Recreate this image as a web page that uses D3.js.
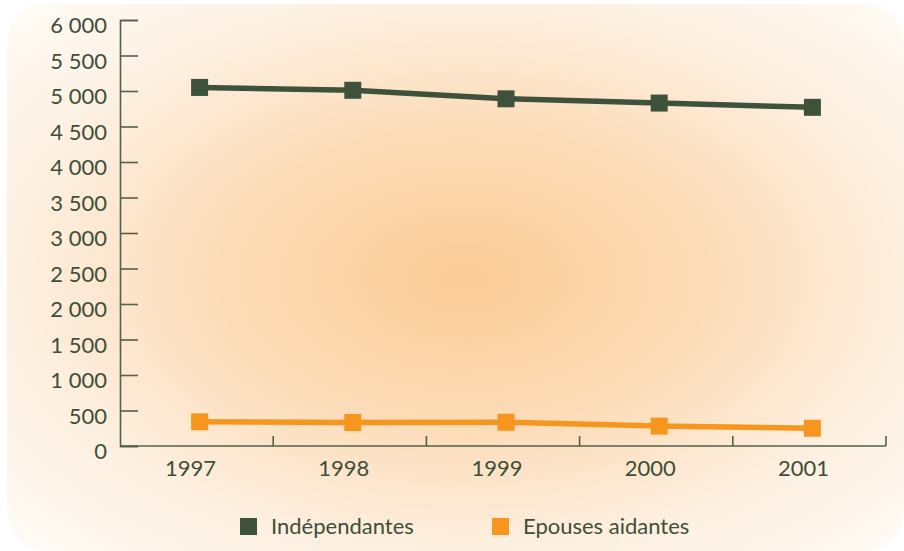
<!DOCTYPE html>
<html>
<head>
<meta charset="utf-8">
<script src="https://cdn.jsdelivr.net/npm/d3@7"></script>
<style>
  html, body { margin: 0; padding: 0; background: #ffffff; }
  svg { display: block; }
  text { font-family: Lato, "Open Sans", sans-serif; fill: #3e4e38; }
</style>
</head>
<body>
<svg id="chart" width="904" height="551"></svg>
<script>
// ---- data ----
const years = ["1997", "1998", "1999", "2000", "2001"];
const independantes = [5050, 5010, 4890, 4830, 4770];
const epousesAidantes = [340, 330, 335, 280, 250];
const seriesNames = ["Indépendantes", "Epouses aidantes"];
const seriesColors = ["#3e513a", "#f7961e"];
const yTicks = [0, 500, 1000, 1500, 2000, 2500, 3000, 3500, 4000, 4500, 5000, 5500, 6000];

// ---- layout ----
const W = 904, H = 551;
const margin = { left: 120, right: 18, top: 20, bottom: 105 };
const svg = d3.select("#chart");
const defs = svg.append("defs");

const grad = defs.append("radialGradient")
  .attr("id", "bg").attr("cx", 0.51).attr("cy", 0.5).attr("r", 0.72)
  .attr("fx", 0.51).attr("fy", 0.5);
grad.append("stop").attr("offset", 0).attr("stop-color", "#fbcc96");
grad.append("stop").attr("offset", 0.38).attr("stop-color", "#fcdcb8");
grad.append("stop").attr("offset", 0.7).attr("stop-color", "#fdf0e1");
grad.append("stop").attr("offset", 1).attr("stop-color", "#fffcf8");

svg.append("rect")
  .attr("x", 7).attr("y", 4).attr("width", 897).attr("height", 547)
  .attr("rx", 40).attr("ry", 40)
  .attr("fill", "url(#bg)");

const x = d3.scaleBand().domain(years).range([margin.left, W - margin.right]).paddingInner(0).paddingOuter(0);
const y = d3.scaleLinear().domain([0, 6000]).range([H - margin.bottom, margin.top]);
const px = d => x(d) + x.bandwidth() / 2 + 3;

const fmt = d3.formatLocale({ decimal: ",", thousands: " ", grouping: [3], currency: ["", " €"] }).format(",d");
const axisColor = "#52614c";
const fontSize = 22;

// y axis
const yAxis = svg.append("g")
  .attr("transform", `translate(${margin.left},0)`)
  .call(d3.axisLeft(y).tickValues(yTicks).tickFormat(fmt).tickSize(-18).tickPadding(13));
yAxis.select(".domain").attr("stroke", axisColor).attr("stroke-width", 1.6);
yAxis.selectAll(".tick line").attr("stroke", axisColor).attr("stroke-width", 1.6);
yAxis.selectAll(".tick text")
  .attr("font-size", fontSize).attr("fill", "#3e4e38").attr("dy", "0.58em")
  .style("font-family", "Lato, 'Open Sans', sans-serif");

// x axis
const x0 = y(0);
const xAxis = svg.append("g").attr("transform", `translate(0,${x0})`);
xAxis.append("line")
  .attr("x1", x.range()[0]).attr("x2", x.range()[1])
  .attr("y1", 0).attr("y2", 0)
  .attr("stroke", axisColor).attr("stroke-width", 1.6);
const edges = years.map(d => x(d) + x.bandwidth());
xAxis.selectAll("line.edge").data(edges).enter().append("line")
  .attr("class", "edge")
  .attr("x1", d => d).attr("x2", d => d)
  .attr("y1", 0).attr("y2", -10)
  .attr("stroke", axisColor).attr("stroke-width", 1.6);
xAxis.selectAll("text").data(years).enter().append("text")
  .attr("x", d => x(d) + x.bandwidth() / 2 - 6)
  .attr("y", 30)
  .attr("text-anchor", "middle")
  .attr("font-size", fontSize)
  .text(d => d);

// series
const series = [independantes, epousesAidantes];
const line = d3.line().x((d, i) => px(years[i])).y(d => y(d));
const sq = 17;
series.forEach((vals, si) => {
  svg.append("path")
    .datum(vals)
    .attr("d", line)
    .attr("fill", "none")
    .attr("stroke", seriesColors[si])
    .attr("stroke-width", 5.5);
  svg.selectAll(null).data(vals).enter().append("rect")
    .attr("x", (d, i) => px(years[i]) - sq / 2)
    .attr("y", d => y(d) - sq / 2)
    .attr("width", sq).attr("height", sq)
    .attr("fill", seriesColors[si]);
});

// legend
const legendX = [240, 492];
const legend = svg.append("g");
seriesNames.forEach((name, i) => {
  legend.append("rect")
    .attr("x", legendX[i]).attr("y", 518)
    .attr("width", 17).attr("height", 17)
    .attr("fill", seriesColors[i]);
  legend.append("text")
    .attr("x", legendX[i] + 31).attr("y", 534)
    .attr("font-size", fontSize)
    .text(name);
});
</script>
</body>
</html>
